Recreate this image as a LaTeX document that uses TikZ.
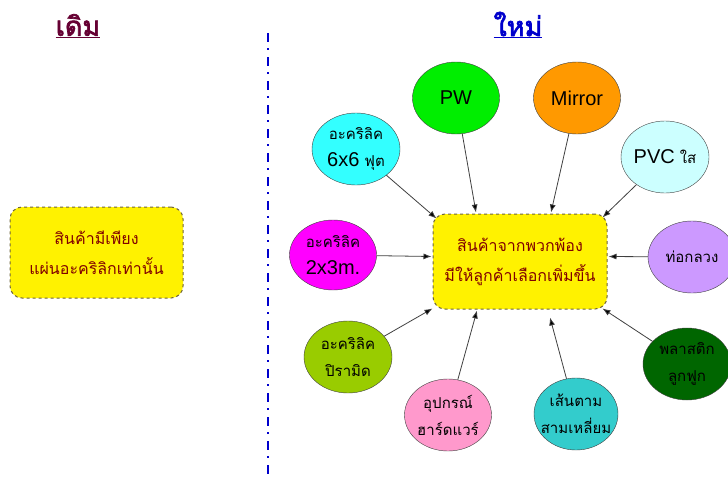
\documentclass[tikz,border=0pt]{standalone}
\usepackage{fontspec}
\setmainfont{Liberation Sans}
\newfontfamily\thaifont[Script=Thai]{Loma}
\newfontfamily\thaiheavy[Script=Thai,FakeBold=2.5]{Loma}
\usetikzlibrary{shapes.geometric,arrows.meta,calc}
\definecolor{oldcol}{RGB}{102,0,51}
\definecolor{newcol}{RGB}{0,0,204}
\definecolor{boxtext}{RGB}{128,0,0}
\definecolor{boxline}{RGB}{110,100,60}
\definecolor{pwcol}{RGB}{0,238,0}
\definecolor{mircol}{RGB}{255,153,0}
\definecolor{pvccol}{RGB}{204,255,255}
\definecolor{tubecol}{RGB}{204,153,255}
\definecolor{corrcol}{RGB}{0,102,0}
\definecolor{sixcol}{RGB}{51,255,255}
\definecolor{twocol}{RGB}{255,0,255}
\definecolor{pyrcol}{RGB}{153,204,0}
\definecolor{hardcol}{RGB}{255,153,204}
\definecolor{tricol}{RGB}{51,204,204}
\newcommand*{\lat}[1]{{\normalfont\fontsize{20}{24}\selectfont #1}}

\begin{document}
\begin{tikzpicture}[x=1pt,y=-1pt,
    bubble/.style={ellipse,draw=black!75,thin,minimum width=87pt,minimum height=72pt,
      inner sep=-8pt,align=center,font=\thaifont\fontsize{15}{27}\selectfont},
    panel/.style={draw=boxline,dashed,line width=1pt,fill=yellow,rounded corners=12pt,
      align=center,text=boxtext,font=\thaifont\fontsize{16}{30}\selectfont},
    heading/.style={inner sep=0pt,font=\thaiheavy\fontsize{27}{30}\selectfont},
    arr/.style={draw=black!75,line width=0.8pt,-{Latex[length=8pt,width=6pt]}}]
  \useasboundingbox (0,0) rectangle (728,479);
  \fill[white] (0,0) rectangle (728,479);

  % headings and divider
  \node[heading,text=oldcol] (old) at (78,26) {\underline{เดิม}};
  \node[heading,text=newcol] (new) at (518,25) {\underline{ใหม่}};
  \draw[newcol,line width=1.6pt,dash pattern=on 9pt off 6pt on 2pt off 7pt] (268,33) -- (268,479);

  % before
  \node[panel,minimum width=173pt,minimum height=91pt] (before) at (96.5,252.5)
    {สินค้ามีเพียง\\แผ่นอะคริลิกเท่านั้น};

  % after
  \node[panel,minimum width=174pt,minimum height=95pt] (hub) at (520,261.5)
    {สินค้าจากพวกพ้อง\\มีให้ลูกค้าเลือกเพิ่มขึ้น};

  \node[bubble,fill=pwcol] (pw) at (456,98) {\lat{PW}};
  \node[bubble,fill=mircol] (mirror) at (577,98) {\lat{Mirror}};
  \node[bubble,fill=pvccol,minimum width=88pt] (pvc) at (665,157) {\lat{PVC} ใส};
  \node[bubble,fill=tubecol,minimum width=88pt] (tube) at (692,257) {ท่อกลวง};
  \node[bubble,fill=corrcol,minimum width=88pt] (corr) at (687,364) {พลาสติก\\ลูกฟูก};
  \node[bubble,fill=sixcol,minimum width=88pt] (six) at (356,149) {อะคริลิค\\\lat{6x6} ฟุต};
  \node[bubble,fill=twocol,minimum height=70pt,align=left] (two) at (333,255) {อะคริลิค\\\lat{2x3m.}};
  \node[bubble,fill=pyrcol,minimum width=88pt] (pyr) at (348,357) {อะคริลิค\\ปิรามิด};
  \node[bubble,fill=hardcol] (hard) at (448,415) {อุปกรณ์\\ฮาร์ดแวร์};
  \node[bubble,fill=tricol,minimum width=84pt] (tri) at (576,414) {เส้นตาม\\สามเหลี่ยม};

  \coordinate (inSix) at ($(hub.north west)+(4,5)$);
  \coordinate (inTwo) at ($(hub.west)+(-1,-5)$);
  \coordinate (inPW) at ($(hub.north)+(-44,-1)$);
  \coordinate (inMirror) at ($(hub.north)+(31,-1)$);
  \coordinate (inPVC) at ($(hub.north east)+(-5,4)$);
  \coordinate (inTube) at ($(hub.east)+(1,-5)$);
  \coordinate (inCorr) at ($(hub.south east)+(-5,-1)$);
  \coordinate (inTri) at ($(hub.south)+(30,8)$);
  \coordinate (inHard) at ($(hub.south)+(-43,1)$);
  \coordinate (inPyr) at ($(hub.south west)+(0,-1)$);

  \path[arr]
    (six) edge (inSix)
    (two) edge (inTwo)
    (pw) edge (inPW)
    (mirror) edge (inMirror)
    (pvc) edge (inPVC)
    (tube) edge (inTube)
    (corr) edge (inCorr)
    (tri) edge (inTri)
    (hard) edge (inHard)
    (pyr) edge (inPyr)
    ;
\end{tikzpicture}
\end{document}
